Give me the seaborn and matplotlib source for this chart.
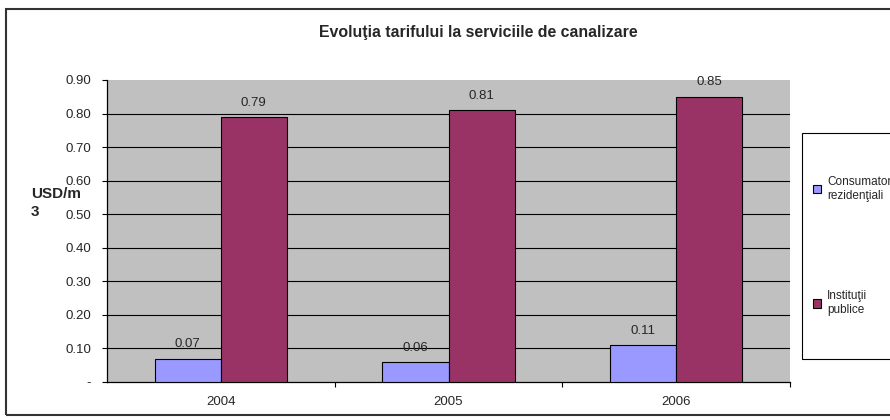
import matplotlib
matplotlib.use("Agg")
import matplotlib.pyplot as plt
import matplotlib.patches as mpatches
from matplotlib.ticker import FixedLocator
import seaborn as sns
import pandas as pd

years = ["2004", "2005", "2006"]
series_names = ["Consumatori\nrezidenţiali", "Instituţii\npublice"]
residential = [0.07, 0.06, 0.11]
public_inst = [0.79, 0.81, 0.85]
yticks = [0.0, 0.1, 0.2, 0.3, 0.4, 0.5, 0.6, 0.7, 0.8, 0.9]
colors = ["#9999FF", "#993366"]
title = "Evoluţia tarifului la serviciile de canalizare"
ylabel = "USD/m\n3"

df = pd.DataFrame({
    "year": years * 2,
    "value": residential + public_inst,
    "series": [series_names[0]] * 3 + [series_names[1]] * 3,
})

sns.set_style("white")
plt.rcParams["font.family"] = ["Liberation Sans", "DejaVu Sans"]

W, H = 890, 420
fig = plt.figure(figsize=(8.9, 4.2), dpi=100)
ax = fig.add_axes([107 / W, 1 - 382 / H, 683 / W, 302 / H])
ax.set_facecolor("#C0C0C0")

sns.barplot(data=df, x="year", y="value", hue="series", palette=colors,
            saturation=1, edgecolor="black", linewidth=0.8, width=0.58, ax=ax,
            legend=True, zorder=3)

for cont in ax.containers:
    ax.bar_label(cont, fmt="%.2f", padding=6, fontsize=9.5)

ax.set_xlim(-0.5, 2.5)
ax.set_ylim(0, 0.9)
ax.set_yticks(yticks)
ax.set_yticklabels(["-" if v == 0 else f"{v:.2f}" for v in yticks], fontsize=9.5)
ax.tick_params(axis="y", direction="out", length=3.6, width=0.8, color="black", pad=8, left=True)
ax.xaxis.set_minor_locator(FixedLocator([0.5, 1.5, 2.5]))
ax.tick_params(axis="x", which="major", length=0, pad=10, labelsize=9.5)
ax.tick_params(axis="x", which="minor", direction="out", length=3.6, width=0.8, color="black", bottom=True)
ax.set_xlabel("")
ax.set_ylabel("")

for yv in yticks[1:-1]:
    ax.axhline(yv, color="black", linewidth=0.8, zorder=1)

for s in ["top", "right"]:
    ax.spines[s].set_visible(False)
for s in ["left", "bottom"]:
    ax.spines[s].set_color("black")
    ax.spines[s].set_linewidth(0.9)

fig.text(31 / W, 1 - 203 / H, ylabel, fontsize=11, fontweight="bold",
         ha="left", va="center", multialignment="left", linespacing=1.3)

fig.text(478 / W, 1 - 33 / H, title, fontsize=11.4, fontweight="bold",
         ha="center", va="center")

# legend box
fig.patches.append(mpatches.Rectangle((802 / W, 1 - 359 / H), 100 / W, 226 / H,
                                      transform=fig.transFigure, facecolor="white",
                                      edgecolor="black", linewidth=0.8))
handles, labels = ax.get_legend_handles_labels()
ax.get_legend().remove()
leg = fig.legend(handles, labels, loc="upper left", bbox_to_anchor=(813 / W, 1 - 176 / H),
                 frameon=False, fontsize=8.5, handlelength=0.7, handleheight=0.7,
                 handletextpad=0.5, labelspacing=7.5, borderaxespad=0, borderpad=0)

# outer border
fig.patches.append(mpatches.Rectangle((6 / W, 1 - 415 / H), 900 / W, 406 / H,
                                      transform=fig.transFigure, facecolor="none",
                                      edgecolor="#333333", linewidth=1.5))

fig.savefig("out.png", dpi=100)
